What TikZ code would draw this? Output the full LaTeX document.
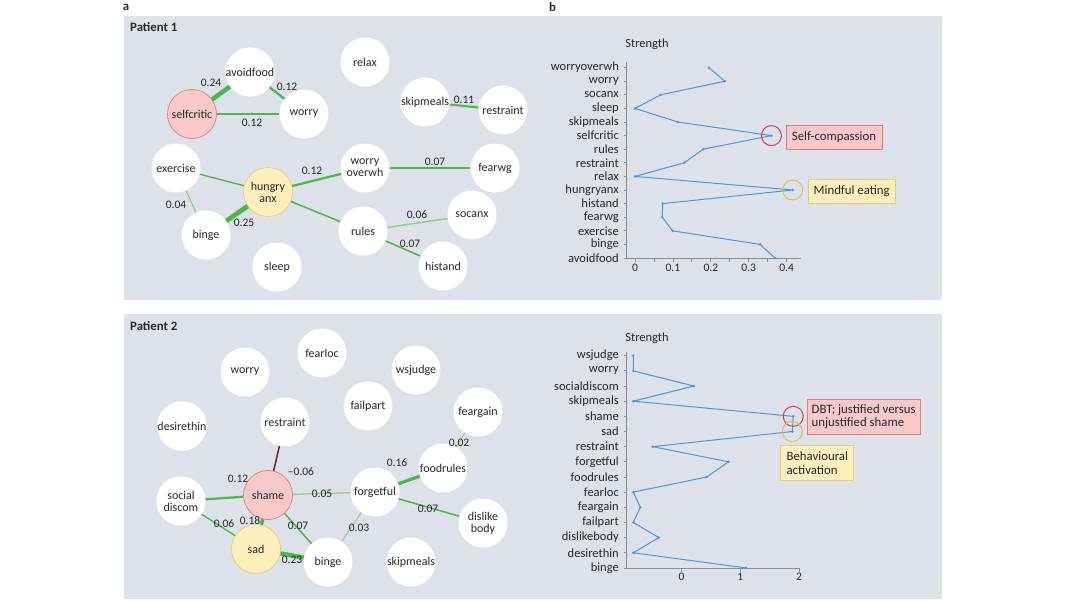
\documentclass[tikz,border=0pt]{standalone}
\usepackage{fontspec}
\setmainfont{Carlito}
\usepackage{tikz}
\newcommand\nodetxt{\fontsize{12}{12.2}\selectfont}
\newcommand\wtxt{\fontsize{11.5}{12}\selectfont}
\newcommand\plottxt{\fontsize{12.5}{13}\selectfont}
\newcommand\boxtxt{\fontsize{12.8}{13.5}\selectfont}
\newcommand\headtxt{\fontsize{12.8}{13}\selectfont\bfseries}
\tikzset{
  sym/.style     = {circle, fill=white, minimum size=49pt, inner sep=0pt,
                    align=center, font=\nodetxt, text=InkGray},
  hot/.style     = {sym, fill=SoftPink, draw=PinkLine, line width=0.7pt},
  calm/.style    = {sym, fill=SoftYellow, draw=YellowLine, line width=0.7pt},
  tie/.style     = {draw=EdgeGreen, line width=#1},
  weak/.style    = {draw=EdgeLight, line width=#1},
  negtie/.style  = {draw=NegRed, line width=#1},
  wlab/.style    = {font=\wtxt, text=InkGray, inner sep=0pt},
  catlab/.style  = {anchor=east, font=\plottxt, text=InkGray, inner sep=0pt},
  axisline/.style= {draw=AxisGray, line width=0.8pt},
  trend/.style   = {draw=PlotBlue, line width=1pt, line join=round},
  tipbox/.style  = {line width=0.7pt, align=left, font=\boxtxt,
                    text=InkGray, inner sep=0pt},
  ring/.style    = {line width=1pt, fill=none}
}
\definecolor{PanelGray}{RGB}{221,225,233}
\definecolor{InkGray}{RGB}{40,40,45}
\definecolor{SoftPink}{RGB}{249,201,201}
\definecolor{PinkLine}{RGB}{222,125,125}
\definecolor{SoftYellow}{RGB}{253,239,188}
\definecolor{YellowLine}{RGB}{232,202,125}
\definecolor{EdgeGreen}{RGB}{76,182,70}
\definecolor{EdgeLight}{RGB}{140,206,130}
\definecolor{NegRed}{RGB}{120,30,40}
\definecolor{PlotBlue}{RGB}{74,152,214}
\definecolor{AxisGray}{RGB}{140,142,148}
\definecolor{RingRed}{RGB}{200,70,80}
\definecolor{RingYellow}{RGB}{226,186,84}

\begin{document}
\begin{tikzpicture}[x=1pt, y=-1pt]
\useasboundingbox (0,0) rectangle (1066,600);
\fill[PanelGray] (124,16) rectangle (942,300);
\fill[PanelGray] (124,314) rectangle (942,599);
\node[font=\headtxt, text=InkGray] (pa) at (126,7) {a};
\node[font=\headtxt, text=InkGray] (pb) at (552.5,7) {b};
\node[font=\headtxt, text=InkGray, anchor=west, inner sep=0pt] (h1) at (130,27) {Patient 1};
\node[font=\headtxt, text=InkGray, anchor=west, inner sep=0pt] (h2) at (130,326) {Patient 2};

\node[sym]  (avoidfood1)  at (250,72)  {avoidfood};
\node[hot]  (selfcritic1) at (192,114) {selfcritic};
\node[sym]  (worry1)      at (304,114) {worry};
\node[sym]  (relax1)      at (365,62)  {relax};
\node[sym]  (skipmeals1)  at (425,102) {skipmeals};
\node[sym]  (restraint1)  at (503,110) {restraint};
\node[sym]  (exercise1)   at (176,168) {exercise};
\node[calm] (hungry1)     at (268,192) {hungry\\anx};
\node[sym]  (overwh1)     at (365,168) {worry\\overwh};
\node[sym]  (fearwg1)     at (495,168) {fearwg};
\node[sym]  (socanx1)     at (472,215) {socanx};
\node[sym]  (binge1)      at (206,235) {binge};
\node[sym]  (rules1)      at (363,231) {rules};
\node[sym]  (histand1)    at (443,266) {histand};
\node[sym]  (sleep1)      at (277,267) {sleep};

\draw[tie=4.5pt] (selfcritic1) -- (avoidfood1);
\draw[tie=2.2pt] (avoidfood1) -- (worry1);
\draw[tie=2.2pt] (selfcritic1) -- (worry1);
\draw[tie=2pt]   (skipmeals1) -- (restraint1);
\draw[tie=1.3pt] (hungry1) -- (exercise1);
\draw[weak=1.1pt] (exercise1) -- (binge1);
\draw[tie=4.7pt] (hungry1) -- (binge1);
\draw[tie=2.2pt] (hungry1) -- (overwh1);
\draw[tie=1.5pt] (overwh1) -- (fearwg1);
\draw[tie=1.5pt] (hungry1) -- (rules1);
\draw[weak=1.4pt] (rules1) -- (socanx1);
\draw[tie=1.5pt] (rules1) -- (histand1);

\node[wlab] (w1)  at (211,83)  {0.24};
\node[wlab] (w2)  at (287,87)  {0.12};
\node[wlab] (w3)  at (252,123) {0.12};
\node[wlab] (w4)  at (464,100) {0.11};
\node[wlab] (w5)  at (176,205) {0.04};
\node[wlab] (w6)  at (244,223) {0.25};
\node[wlab] (w7)  at (312,171) {0.12};
\node[wlab] (w8)  at (435,162) {0.07};
\node[wlab] (w9)  at (417,215) {0.06};
\node[wlab] (w10) at (410,244) {0.07};

\node[sym]  (fearloc2)    at (322,353) {fearloc};
\node[sym]  (worry2)      at (245,372) {worry};
\node[sym]  (wsjudge2)    at (416,370) {wsjudge};
\node[sym]  (failpart2)   at (368,406) {failpart};
\node[sym]  (feargain2)   at (478,412) {feargain};
\node[sym]  (desire2)     at (182,426) {desirethin};
\node[sym]  (restraint2)  at (285,422) {restraint};
\node[sym]  (foodrules2)  at (443,468) {foodrules};
\node[hot]  (shame2)      at (268,495) {shame};
\node[sym]  (forgetful2)  at (375,492) {forgetful};
\node[sym]  (social2)     at (181,501) {social\\discom};
\node[calm] (sad2)        at (256,549) {sad};
\node[sym]  (binge2)      at (328,562) {binge};
\node[sym]  (skipmeals2)  at (411,562) {skipmeals};
\node[sym]  (dislike2)    at (483,523) {dislike\\body};

\draw[negtie=1.5pt] (shame2) -- (restraint2);
\draw[tie=2.2pt]  (shame2) -- (social2);
\draw[weak=1.2pt] (shame2) -- (forgetful2);
\draw[tie=3.6pt]  (shame2) -- (sad2);
\draw[tie=1.5pt]  (shame2) -- (binge2);
\draw[tie=1.3pt]  (social2) -- (sad2);
\draw[tie=4.4pt]  (sad2) -- (binge2);
\draw[weak=1pt]   (binge2) -- (forgetful2);
\draw[tie=3.2pt]  (forgetful2) -- (foodrules2);
\draw[weak=0.8pt] (foodrules2) -- (feargain2);
\draw[tie=1.5pt]  (forgetful2) -- (dislike2);

\node[wlab] (v1)  at (301,472) {\textendash0.06};
\node[wlab] (v2)  at (238,479) {0.12};
\node[wlab] (v3)  at (322,494) {0.05};
\node[wlab] (v4)  at (250,521) {0.18};
\node[wlab] (v5)  at (298,526) {0.07};
\node[wlab] (v6)  at (224,524) {0.06};
\node[wlab] (v7)  at (292,560) {0.23};
\node[wlab] (v8)  at (359,528) {0.03};
\node[wlab] (v9)  at (397,463) {0.16};
\node[wlab] (v10) at (459,443) {0.02};
\node[wlab] (v11) at (428,509) {0.07};

\node[font=\plottxt, text=InkGray] (s1) at (647,44) {Strength};
\draw[axisline] (626.7,61.7) -- (626.7,258.3) -- (800.7,258.3);
\foreach \t in {0,...,8}
  \draw[axisline] ({635+18.95*\t},258.3) -- ++(0,3.5);
\foreach \s [count=\k from 0] in {0,0.1,0.2,0.3,0.4}
  \node[wlab] (tx\k) at ({635+37.9*\k},268.3) {\s};
\foreach \lab/\val [count=\k from 0] in {worryoverwh/0.195, worry/0.237,
    socanx/0.068, sleep/0, skipmeals/0.113, selfcritic/0.36, rules/0.18,
    restraint/0.13, relax/0, hungryanx/0.416, histand/0.073, fearwg/0.072,
    exercise/0.099, binge/0.33, avoidfood/0.369} {
  \node[catlab] (ta\k) at (619,{67.6+13.6*\k}) {\lab};
  \draw[axisline] (623.5,{67.6+13.6*\k}) -- (626.7,{67.6+13.6*\k});
  \coordinate (tp\k) at ({635+379*(\val)},{67.6+13.6*\k});
}
\draw[trend] (tp0) \foreach \k in {1,...,14} { -- (tp\k) };
\foreach \k in {0,...,14} \fill[PlotBlue] (tp\k) circle[radius=1.4pt];
\draw[ring, RingRed] (tp5) circle[radius=10pt];
\draw[ring, RingYellow] (tp9) circle[radius=10pt];
\node[tipbox, draw=PinkLine, fill=SoftPink, minimum width=96pt,
      minimum height=24pt] (selfcomp) at (834,137) {Self-compassion};
\node[tipbox, draw=YellowLine, fill=SoftYellow, minimum width=87pt,
      minimum height=24pt] (mindful) at (851.7,191) {Mindful eating};

\node[font=\plottxt, text=InkGray] (s2) at (647,338) {Strength};
\draw[axisline] (626.7,352) -- (626.7,568) -- (799.3,568);
\foreach \s [count=\k from 0] in {0,1,2} {
  \draw[axisline] ({681.5+58.8*\k},568) -- ++(0,3.5);
  \node[wlab] (bx\k) at ({681.5+58.8*\k},577) {\s};
}
\foreach \lab/\val [count=\k from 0] in {wsjudge/-0.82, worry/-0.82,
    socialdiscom/0.21, skipmeals/-0.82, shame/1.9, sad/1.885,
    restraint/-0.49, forgetful/0.8, foodrules/0.43, fearloc/-0.82,
    feargain/-0.7, failpart/-0.82, dislikebody/-0.385, desirethin/-0.82,
    binge/1.1} {
  \node[catlab] (ba\k) at (619,{355.7+15.16*\k}) {\lab};
  \draw[axisline] (623.5,{355.7+15.16*\k}) -- (626.7,{355.7+15.16*\k});
  \coordinate (bp\k) at ({681.5+58.8*(\val)},{355.7+15.16*\k});
}
\draw[trend] (bp0) \foreach \k in {1,...,14} { -- (bp\k) };
\foreach \k in {0,...,14} \fill[PlotBlue] (bp\k) circle[radius=1.4pt];
\draw[ring, RingRed] (bp4) circle[radius=10pt];
\draw[ring, RingYellow] (bp5) circle[radius=10pt];
\node[tipbox, draw=PinkLine, fill=SoftPink, minimum width=113pt,
      minimum height=35pt] (dbt) at (863.7,416.7)
      {DBT; justified versus\\unjustified shame};
\node[tipbox, draw=YellowLine, fill=SoftYellow, minimum width=73pt,
      minimum height=35pt] (behav) at (817.3,463.3)
      {Behavioural\\activation};
\end{tikzpicture}
\end{document}
